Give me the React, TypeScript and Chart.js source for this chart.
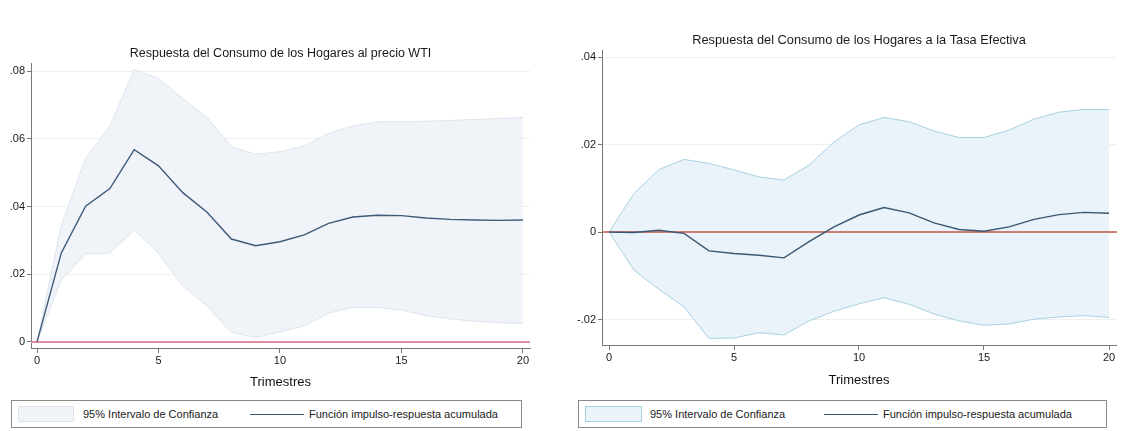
import React, { useEffect, useRef } from "react";
import { Chart, registerables } from "chart.js";

Chart.register(...registerables);

// ---------- data ----------
const quarters = [0, 1, 2, 3, 4, 5, 6, 7, 8, 9, 10, 11, 12, 13, 14, 15, 16, 17, 18, 19, 20];

const wtiIrf = [0, 0.0263, 0.0401, 0.0453, 0.0568, 0.052, 0.0441, 0.0383, 0.0304, 0.0284, 0.0296, 0.0316, 0.035, 0.0369, 0.0374, 0.0373, 0.0366, 0.0362, 0.036, 0.0359, 0.036];
const wtiUpper = [0, 0.0345, 0.0542, 0.0638, 0.0805, 0.0778, 0.0719, 0.0663, 0.0577, 0.0554, 0.0562, 0.0579, 0.0616, 0.0638, 0.065, 0.065, 0.0652, 0.0654, 0.0657, 0.066, 0.0663];
const wtiLower = [0, 0.0183, 0.026, 0.0262, 0.0331, 0.0262, 0.0165, 0.0106, 0.0028, 0.0013, 0.003, 0.0047, 0.0085, 0.0102, 0.0102, 0.0094, 0.0078, 0.0068, 0.0061, 0.0057, 0.0054];

const tasaIrf = [0, -0.0001, 0.0004, -0.0003, -0.0043, -0.0049, -0.0053, -0.0059, -0.0022, 0.0012, 0.0039, 0.0056, 0.0044, 0.0021, 0.0006, 0.0002, 0.0012, 0.0029, 0.004, 0.0045, 0.0043];
const tasaUpper = [0, 0.0088, 0.0143, 0.0166, 0.0157, 0.0142, 0.0126, 0.0119, 0.0153, 0.0206, 0.0245, 0.0262, 0.0252, 0.0231, 0.0216, 0.0216, 0.0233, 0.0258, 0.0274, 0.028, 0.028];
const tasaLower = [0, -0.0087, -0.0131, -0.0171, -0.0243, -0.0242, -0.023, -0.0235, -0.0203, -0.0181, -0.0164, -0.015, -0.0165, -0.0187, -0.0203, -0.0213, -0.021, -0.0199, -0.0194, -0.0191, -0.0195];

const xTicks = [0, 5, 10, 15, 20];
const xTickLabels = ["0", "5", "10", "15", "20"];
const wtiYTicks = [0, 0.02, 0.04, 0.06, 0.08];
const wtiYTickLabels = ["0", ".02", ".04", ".06", ".08"];
const tasaYTicks = [-0.02, 0, 0.02, 0.04];
const tasaYTickLabels = ["-.02", "0", ".02", ".04"];

const referenceValue = 0;

const titleWti = "Respuesta del Consumo de los Hogares al precio WTI";
const titleTasa = "Respuesta del Consumo de los Hogares a la Tasa Efectiva";
const xAxisTitle = "Trimestres";
const legendBand = "95% Intervalo de Confianza";
const legendLine = "Función impulso-respuesta acumulada";

const FONT = "'Liberation Sans', Arial, Helvetica, sans-serif";

// ---------- plugins ----------
const plotTitlePlugin = {
  id: "plotTitle",
  afterDraw(chart: any, _args: any, opts: any) {
    const { ctx, chartArea } = chart;
    ctx.save();
    ctx.font = `${opts.size}px ${FONT}`;
    ctx.fillStyle = "#1a1a1a";
    ctx.textAlign = "center";
    ctx.textBaseline = "middle";
    ctx.fillText(opts.text, (chartArea.left + chartArea.right) / 2, opts.y);
    ctx.restore();
  },
};

const refLinePlugin = {
  id: "refLine",
  afterDatasetDraw(chart: any, args: any, opts: any) {
    if (args.index !== 1) return;
    const { ctx, chartArea, scales } = chart;
    const y = scales.y.getPixelForValue(opts.value);
    ctx.save();
    ctx.strokeStyle = opts.color;
    ctx.lineWidth = opts.width;
    ctx.beginPath();
    ctx.moveTo(chartArea.left, y);
    ctx.lineTo(chartArea.right + (opts.extend || 0), y);
    ctx.stroke();
    ctx.restore();
  },
};

type PanelProps = {
  left: number;
  top: number;
  width: number;
  height: number;
  title: string;
  titleY: number;
  titleSize: number;
  padTop: number;
  padRight: number;
  yAxisWidth: number;
  xAxisHeight: number;
  xTitlePadBottom: number;
  irf: number[];
  upper: number[];
  lower: number[];
  yTicks: number[];
  yTickLabels: string[];
  yMin: number;
  yMax: number;
  xMin: number;
  xMax: number;
  bandFill: string;
  bandBorder: string;
  lineColor: string;
  refColor: string;
  refWidth: number;
  refExtend: number;
};

function IrfPanel(p: PanelProps) {
  const ref = useRef<HTMLCanvasElement | null>(null);
  useEffect(() => {
    if (!ref.current) return;
    const toPts = (arr: number[]) => quarters.map((q, i) => ({ x: q, y: arr[i] }));
    const chart = new Chart(ref.current, {
      type: "line",
      data: {
        datasets: [
          {
            label: legendLine,
            data: toPts(p.irf),
            borderColor: p.lineColor,
            borderWidth: 1.4,
            pointRadius: 0,
            fill: false,
            tension: 0,
          },
          {
            label: "lower",
            data: toPts(p.lower),
            borderColor: p.bandBorder,
            borderWidth: 1,
            pointRadius: 0,
            fill: false,
            tension: 0,
          },
          {
            label: legendBand,
            data: toPts(p.upper),
            borderColor: p.bandBorder,
            borderWidth: 1,
            backgroundColor: p.bandFill,
            pointRadius: 0,
            fill: 1,
            tension: 0,
          },
        ],
      },
      options: {
        animation: false,
        responsive: false,
        maintainAspectRatio: false,
        layout: { padding: { top: p.padTop, right: p.padRight, left: 0, bottom: 0 } },
        plugins: {
          legend: { display: false },
          tooltip: { enabled: false },
          title: { display: false },
          plotTitle: { text: p.title, y: p.titleY, size: p.titleSize },
          refLine: { value: referenceValue, color: p.refColor, width: p.refWidth, extend: p.refExtend },
        } as any,
        scales: {
          x: {
            type: "linear",
            min: p.xMin,
            max: p.xMax,
            afterBuildTicks: (s: any) => {
              s.ticks = xTicks.map((v) => ({ value: v }));
            },
            afterFit: (s: any) => {
              s.height = p.xAxisHeight;
            },
            ticks: {
              callback: (v: any) => xTickLabels[xTicks.indexOf(Number(v))],
              font: { family: FONT, size: 11 },
              color: "#1a1a1a",
              padding: 1,
              maxRotation: 0,
              autoSkip: false,
            },
            grid: {
              display: true,
              drawOnChartArea: false,
              drawTicks: true,
              tickLength: 5,
              tickColor: "#777",
            },
            border: { color: "#777", width: 1 },
            title: {
              display: true,
              text: xAxisTitle,
              font: { family: FONT, size: 13 },
              color: "#111",
              padding: { top: 0, bottom: p.xTitlePadBottom },
            },
          },
          y: {
            type: "linear",
            min: p.yMin,
            max: p.yMax,
            afterBuildTicks: (s: any) => {
              s.ticks = p.yTicks.map((v) => ({ value: v }));
            },
            afterFit: (s: any) => {
              s.width = p.yAxisWidth;
            },
            ticks: {
              callback: (_v: any, i: number) => p.yTickLabels[i],
              font: { family: FONT, size: 11 },
              color: "#1a1a1a",
              padding: 2,
            },
            grid: {
              display: true,
              drawOnChartArea: true,
              color: "#efefef",
              lineWidth: 1,
              tickLength: 4,
              tickColor: "#777",
            },
            border: { color: "#777", width: 1 },
          },
        },
      } as any,
      plugins: [plotTitlePlugin, refLinePlugin],
    });
    return () => chart.destroy();
  }, []);
  return (
    <canvas
      ref={ref}
      width={p.width}
      height={p.height}
      style={{ position: "absolute", left: p.left, top: p.top, width: p.width, height: p.height }}
    />
  );
}

type LegendProps = {
  left: number;
  width: number;
  swatchLeft: number;
  swatchWidth: number;
  text1Left: number;
  lineLeft: number;
  lineWidth: number;
  text2Left: number;
  bandFill: string;
  bandBorder: string;
  lineColor: string;
};

function LegendBox(p: LegendProps) {
  const textStyle: React.CSSProperties = {
    position: "absolute",
    top: 0,
    height: 27,
    lineHeight: "27px",
    fontFamily: FONT,
    fontSize: 11,
    color: "#1a1a1a",
    whiteSpace: "nowrap",
  };
  return (
    <div
      style={{
        position: "absolute",
        left: p.left,
        top: 400,
        width: p.width,
        height: 28,
        border: "1px solid #8a8a8a",
        boxSizing: "border-box",
        background: "#fff",
      }}
    >
      <div
        style={{
          position: "absolute",
          left: p.swatchLeft,
          top: 5,
          width: p.swatchWidth,
          height: 16,
          background: p.bandFill,
          border: `1px solid ${p.bandBorder}`,
          boxSizing: "border-box",
        }}
      />
      <div style={{ ...textStyle, left: p.text1Left }}>{legendBand}</div>
      <div
        style={{
          position: "absolute",
          left: p.lineLeft,
          top: 13,
          width: p.lineWidth,
          height: 0,
          borderTop: `1.4px solid ${p.lineColor}`,
        }}
      />
      <div style={{ ...textStyle, left: p.text2Left }}>{legendLine}</div>
    </div>
  );
}

export default function App() {
  return (
    <div
      style={{
        position: "fixed",
        left: 0,
        top: 0,
        width: 1130,
        height: 431,
        background: "#fff",
        overflow: "hidden",
      }}
    >
      <IrfPanel
        left={0}
        top={0}
        width={560}
        height={395}
        title={titleWti}
        titleY={54}
        titleSize={12.5}
        padTop={63}
        padRight={30}
        yAxisWidth={31}
        xAxisHeight={47}
        xTitlePadBottom={5}
        irf={wtiIrf}
        upper={wtiUpper}
        lower={wtiLower}
        yTicks={wtiYTicks}
        yTickLabels={wtiYTickLabels}
        yMin={-0.0018}
        yMax={0.0824}
        xMin={-0.247}
        xMax={20.29}
        bandFill="#f0f4f8"
        bandBorder="#dce5ed"
        lineColor="#3e5a78"
        refColor="#d98ea2"
        refWidth={2}
        refExtend={0}
      />
      <IrfPanel
        left={565}
        top={0}
        width={565}
        height={395}
        title={titleTasa}
        titleY={40.5}
        titleSize={12.8}
        padTop={50}
        padRight={14}
        yAxisWidth={37}
        xAxisHeight={50}
        xTitlePadBottom={7}
        irf={tasaIrf}
        upper={tasaUpper}
        lower={tasaLower}
        yTicks={tasaYTicks}
        yTickLabels={tasaYTickLabels}
        yMin={-0.0258}
        yMax={0.0416}
        xMin={-0.28}
        xMax={20.28}
        bandFill="#e9f3f9"
        bandBorder="#a9d1e2"
        lineColor="#3b5670"
        refColor="#c55848"
        refWidth={1.5}
        refExtend={1}
      />
      <LegendBox
        left={11}
        width={511}
        swatchLeft={6}
        swatchWidth={56}
        text1Left={71}
        lineLeft={238}
        lineWidth={54}
        text2Left={297}
        bandFill="#f0f4f8"
        bandBorder="#dce5ed"
        lineColor="#3e5a78"
      />
      <LegendBox
        left={578}
        width={529}
        swatchLeft={6}
        swatchWidth={57}
        text1Left={71}
        lineLeft={245}
        lineWidth={54}
        text2Left={304}
        bandFill="#e9f3f9"
        bandBorder="#a9d1e2"
        lineColor="#3b5670"
      />
    </div>
  );
}
